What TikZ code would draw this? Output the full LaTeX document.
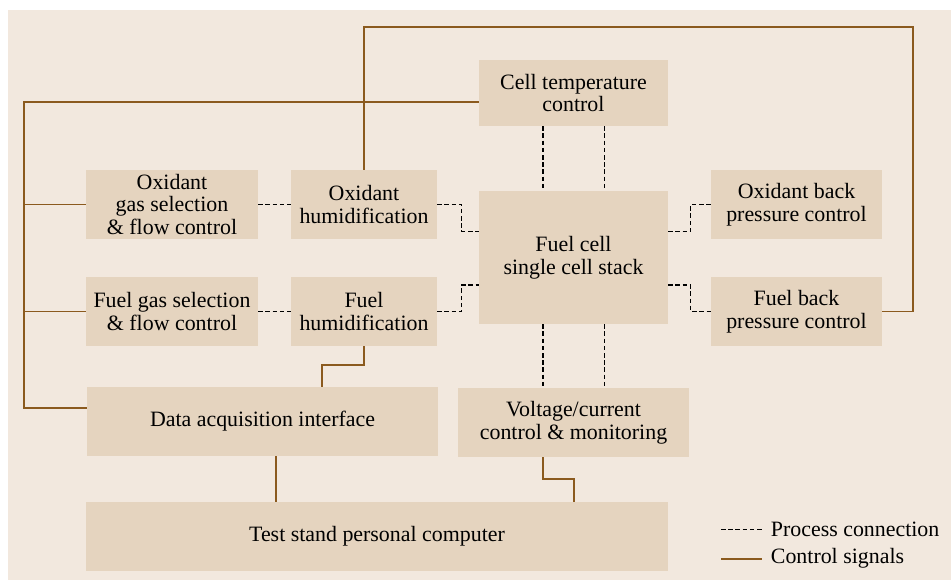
\documentclass[tikz,border=0pt]{standalone}
\usepackage{fontspec}
\setmainfont{Liberation Serif}
\definecolor{bgc}{HTML}{F2E8DE}
\definecolor{boxc}{HTML}{E5D4BF}
\definecolor{ctrlc}{HTML}{8B5A1E}
\tikzset{
  blk/.style={fill=boxc, draw=none, align=center, inner sep=0pt,
    font=\rmfamily\fontsize{21.9}{22.7}\selectfont},
  ctrl/.style={draw=ctrlc, line width=1.8pt},
  proc/.style={draw=black, line width=1.4pt, dash pattern=on 4.5pt off 2.7pt},
  legtext/.style={anchor=west, inner sep=0pt, font=\rmfamily\fontsize{21.9}{22.7}\selectfont}
}
\begin{document}
\begin{tikzpicture}[x=1pt,y=-1pt]
\useasboundingbox (0,0) rectangle (951,581);
\fill[white] (0,0) rectangle (951,581);
\fill[bgc] (8,10) rectangle (951,580);

% boxes
\node[blk, minimum width=172pt, minimum height=69pt] (oxgas) at (172,204.5) {Oxidant\\gas selection\\\& flow control};
\node[blk, minimum width=146pt, minimum height=69pt] (oxhum) at (364,204.5) {Oxidant\\humidification};
\node[blk, minimum width=189pt, minimum height=66pt] (celltemp) at (573.5,93) {Cell temperature\\control};
\node[blk, minimum width=189pt, minimum height=133pt] (stack) at (573.5,257.5) {Fuel cell\\single cell stack};
\node[blk, minimum width=171pt, minimum height=69pt] (oxback) at (796.5,204.5) {Oxidant back\\pressure control};
\node[blk, minimum width=171pt, minimum height=69pt] (fuelback) at (796.5,311.5) {Fuel back\\pressure control};
\node[blk, minimum width=172pt, minimum height=69pt] (fuelgas) at (172,311.5) {Fuel gas selection\\\& flow control};
\node[blk, minimum width=146pt, minimum height=69pt] (fuelhum) at (364,311.5) {Fuel\\humidification};
\node[blk, minimum width=351pt, minimum height=69pt] (daq) at (262.5,421.5) {Data acquisition interface};
\node[blk, minimum width=231pt, minimum height=69pt] (volt) at (573.5,422.5) {Voltage/current\\control \& monitoring};
\node[blk, minimum width=582pt, minimum height=69pt] (pc) at (377,536.5) {Test stand personal computer};

% helper coordinates
\coordinate (busTop) at (24,102);
\coordinate (busBot) at (24,408);
\coordinate (topR) at (913,27);
\coordinate (xa) at (543,0);
\coordinate (xb) at (604.7,0);
\coordinate (xdq) at (276,0);
\coordinate (pA) at (0,231.3);
\coordinate (pB) at (0,285);

% control signals
\draw[ctrl] (celltemp.west |- busTop) -- (busTop) -- (busBot) -- (daq.west |- busBot);
\draw[ctrl] (oxgas.west) -- (oxgas.west -| busTop);
\draw[ctrl] (fuelgas.west) -- (fuelgas.west -| busTop);
\draw[ctrl] (oxhum.north) -- (oxhum.north |- topR) -- (topR) -- (topR |- fuelback.east) -- (fuelback.east);
\draw[ctrl] (fuelhum.south) -- (364,365) -- (322,365) -- (daq.north -| 322,0);
\draw[ctrl] (daq.south -| xdq) -- (pc.north -| xdq);
\draw[ctrl] (volt.south -| xa) -- (543,479) -- (574,479) -- (pc.north -| 574,0);

% process connections
\draw[proc] (oxgas.east) -- (oxhum.west);
\draw[proc] (fuelgas.east) -- (fuelhum.west);
\draw[proc] (oxhum.east) -- (461.7,204.5) -- (461.7,231.3) -- (stack.west |- pA);
\draw[proc] (fuelhum.east) -- (461.7,311.5) -- (461.7,285) -- (stack.west |- pB);
\draw[proc] (celltemp.south -| xa) -- (stack.north -| xa);
\draw[proc] (celltemp.south -| xb) -- (stack.north -| xb);
\draw[proc] (stack.south -| xa) -- (volt.north -| xa);
\draw[proc] (stack.south -| xb) -- (volt.north -| xb);
\draw[proc] (stack.east |- pA) -- (690.7,231.3) -- (690.7,204.5) -- (oxback.west);
\draw[proc] (stack.east |- pB) -- (690.7,285) -- (690.7,311.5) -- (fuelback.west);

% legend
\node[legtext] (lgp) at (770.7,529.3) {Process connection};
\node[legtext] (lgc) at (770.7,558.7) {Control signals};
\coordinate (lp0) at (721,529.3);
\coordinate (lc0) at (721,558.7);
\draw[proc] (lp0) -- ([xshift=-8.7pt]lgp.west);
\draw[ctrl] (lc0) -- ([xshift=-8.7pt]lgc.west);
\end{tikzpicture}
\end{document}
